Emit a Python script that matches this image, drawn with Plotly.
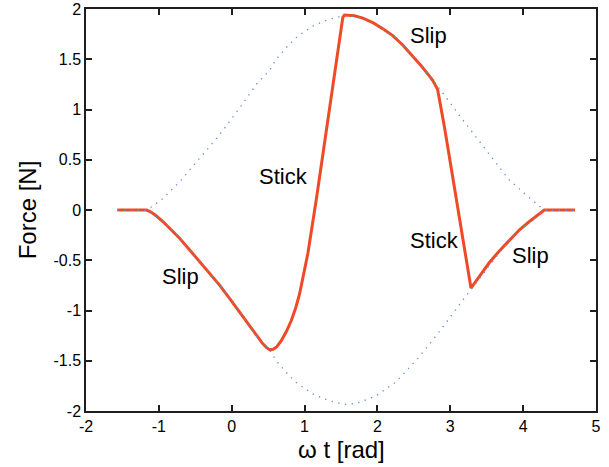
import plotly.graph_objects as go

# Red force curve
force_x = [-1.571, -1.169, -1.12, -1.05, -0.941, -0.83, -0.712, -0.58, -0.438, -0.30, -0.164, -0.03,
           0.11, 0.23, 0.338, 0.42, 0.475, 0.52,
           0.57, 0.62, 0.68, 0.75, 0.818, 0.88, 0.932, 1.045, 1.16, 1.274, 1.388, 1.479, 1.525, 1.548,
           1.62, 1.685, 1.80, 1.936, 2.07, 2.21, 2.35, 2.484, 2.60, 2.712, 2.758,
           2.826, 2.918, 3.032, 3.146, 3.215, 3.284,
           3.40, 3.534, 3.67, 3.808, 3.95, 4.082, 4.20, 4.29, 4.712]
force_y = [0.0, 0.0, -0.015, -0.05, -0.117, -0.195, -0.283, -0.395, -0.517, -0.633, -0.75, -0.88,
           -1.017, -1.14, -1.25, -1.325, -1.367, -1.39,
           -1.385, -1.36, -1.30, -1.21, -1.10, -0.97, -0.833, -0.433, 0.10, 0.667, 1.233, 1.70, 1.917, 1.94,
           1.937, 1.933, 1.91, 1.865, 1.805, 1.735, 1.64, 1.535, 1.435, 1.335, 1.29,
           1.20, 0.833, 0.333, -0.167, -0.50, -0.777,
           -0.66, -0.525, -0.41, -0.30, -0.197, -0.117, -0.046, 0.0, 0.0]

# Dotted friction envelope
env_x = [-1.571, -1.17, -1.08, -0.941, -0.712, -0.438, -0.164, 0.11, 0.338, 0.52, 0.612, 0.749, 0.886,
         1.11, 1.342, 1.548, 1.71, 1.98, 2.256, 2.575, 2.758, 2.849, 3.168, 3.489, 3.808, 4.08, 4.20,
         4.29, 4.712]
env_y = [0.0, 0.0, 0.04, 0.117, 0.283, 0.517, 0.75, 1.017, 1.25, 1.39, 1.5, 1.617, 1.717,
         1.83, 1.90, 1.935, 1.925, 1.85, 1.71, 1.46, 1.29, 1.21, 0.90, 0.60, 0.30, 0.125, 0.05,
         0.0, 0.0]

labels = ["Slip", "Stick", "Slip", "Stick", "Slip"]
label_x = [2.70, 0.712, -0.70, 2.78, 4.105]
label_y = [1.74, 0.33, -0.66, -0.30, -0.45]

x_range = [-2, 5]
y_range = [-2, 2]
x_ticks = [-2, -1, 0, 1, 2, 3, 4, 5]
x_ticktext = ["-2", "-1", "0", "1", "2", "3", "4", "5"]
y_ticks = [-2, -1.5, -1, -0.5, 0, 0.5, 1, 1.5, 2]
y_ticktext = ["-2", "-1.5", "-1", "-0.5", "0", "0.5", "1", "1.5", "2"]

FONT = "Liberation Sans, Arial, Helvetica"
W, H = 609, 467
ML, MR, MT, MB = 86, 13, 9, 56
PW, PH = W - ML - MR, H - MT - MB
TICK_PX = 6
AXIS_COLOR = "rgb(30,30,30)"

fig = go.Figure()
fig.add_trace(go.Scatter(x=force_x, y=force_y, mode="lines",
                         line=dict(color="#EF4A26", width=3),
                         showlegend=False))
fig.add_trace(go.Scatter(x=env_x, y=env_y, mode="lines",
                         line=dict(color="#5A8FDC", width=1.3, dash="1.3px,5.5px"),
                         showlegend=False, hoverinfo="skip"))
fig.add_trace(go.Scatter(x=env_x, y=[-v for v in env_y], mode="lines",
                         line=dict(color="#5A8FDC", width=1.3, dash="1.3px,5.5px"),
                         showlegend=False, hoverinfo="skip"))

for t, x, y in zip(labels, label_x, label_y):
    fig.add_annotation(x=x, y=y, text=t, showarrow=False, xanchor="center", yanchor="middle",
                       font=dict(family=FONT, size=22, color="black"))

fig.add_annotation(xref="paper", yref="paper", x=0.5, y=-0.096, text="ω t [rad]", showarrow=False,
                   xanchor="center", yanchor="middle", font=dict(family=FONT, size=24, color="black"))
fig.add_annotation(xref="paper", yref="paper", x=-0.115, y=0.5, text="Force [N]", showarrow=False,
                   textangle=-90, xanchor="center", yanchor="middle",
                   font=dict(family=FONT, size=24, color="black"))

axis_common = dict(showgrid=False, zeroline=False, showline=True, linecolor=AXIS_COLOR, linewidth=1.5,
                   mirror="ticks", ticks="inside", ticklen=TICK_PX, tickcolor=AXIS_COLOR, tickwidth=1.5,
                   automargin=False, layer="above traces",
                   tickfont=dict(family=FONT, size=16, color="black"))

fig.update_layout(
    width=W, height=H,
    margin=dict(l=ML, r=MR, t=MT, b=MB),
    plot_bgcolor="rgba(0,0,0,0)", paper_bgcolor="white",
    xaxis=dict(range=x_range, tickvals=x_ticks, ticktext=x_ticktext, **axis_common),
    yaxis=dict(range=y_range, tickvals=y_ticks, ticktext=y_ticktext, **axis_common),
)

fig.write_html("out.html", post_script="document.body.style.margin='0px';",
               config={"displayModeBar": False})
